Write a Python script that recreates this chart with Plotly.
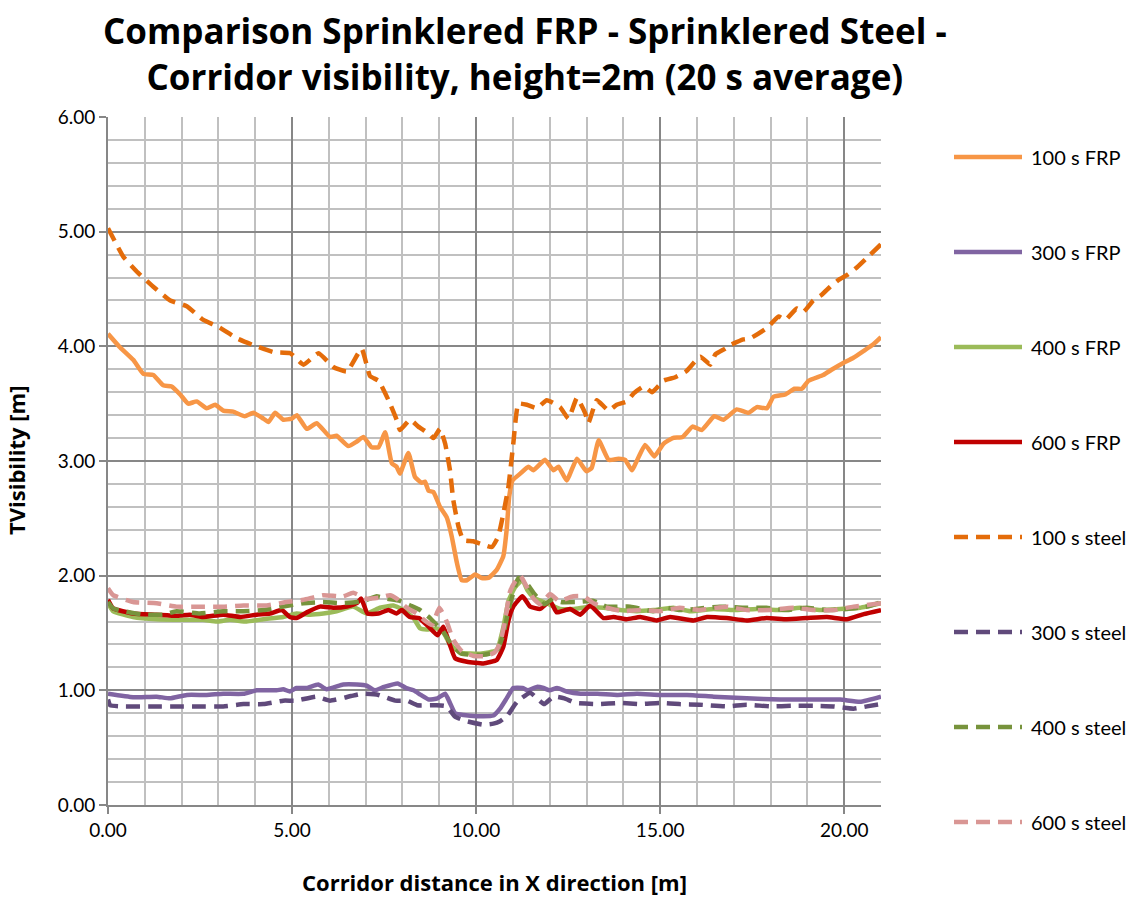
import plotly.graph_objects as go

# Corridor visibility at 2 m height (20 s average) along the corridor X distance.
# Each run has its own sampled distances [m] and visibility values [m].

x_frp_100 = [0, 0.33, 0.69, 0.96, 1.23, 1.5, 1.73, 1.96, 2.18, 2.41, 2.68, 2.91, 3.13, 3.4, 3.72,
             3.95, 4.22, 4.36, 4.54, 4.76, 4.99, 5.13, 5.4, 5.67, 6.03, 6.21, 6.53, 6.76, 6.94,
             7.16, 7.35, 7.53, 7.71, 7.84, 7.93, 8.16, 8.34, 8.52, 8.61, 8.71, 8.84, 9.02, 9.2,
             9.34, 9.48, 9.61, 9.75, 9.97, 10.15, 10.33, 10.56, 10.74, 10.83, 10.9, 10.99, 11.2,
             11.42, 11.56, 11.87, 12.1, 12.24, 12.46, 12.74, 13.0, 13.14, 13.33, 13.6, 13.87,
             14.05, 14.23, 14.59, 14.84, 15.09, 15.34, 15.61, 15.88, 16.13, 16.47, 16.72, 17.08,
             17.4, 17.63, 17.9, 18.08, 18.4, 18.65, 18.85, 19.03, 19.43, 19.68, 19.95, 20.25,
             20.53, 20.8, 21.0]
vis_frp_100 = [4.11, 3.99, 3.88, 3.76, 3.75, 3.66, 3.65, 3.58, 3.50, 3.52, 3.46, 3.49, 3.44, 3.43,
               3.39, 3.42, 3.37, 3.34, 3.42, 3.36, 3.37, 3.40, 3.28, 3.33, 3.21, 3.22, 3.13, 3.17,
               3.21, 3.12, 3.12, 3.25, 2.98, 2.95, 2.89, 3.07, 2.86, 2.81, 2.82, 2.74, 2.73, 2.60,
               2.51, 2.34, 2.11, 1.96, 1.96, 2.01, 1.98, 1.98, 2.05, 2.17, 2.40, 2.69, 2.83, 2.89,
               2.95, 2.92, 3.01, 2.92, 2.95, 2.83, 3.02, 2.91, 2.94, 3.18, 3.01, 3.02, 3.01, 2.92,
               3.14, 3.04, 3.15, 3.20, 3.21, 3.30, 3.27, 3.39, 3.36, 3.45, 3.42, 3.47, 3.46, 3.56,
               3.58, 3.63, 3.63, 3.70, 3.75, 3.80, 3.85, 3.90, 3.96, 4.02, 4.08]

x_frp_300 = [0, 0.68, 1.32, 1.68, 2.14, 2.68, 3.13, 3.68, 4.04, 4.58, 4.76, 4.94, 5.12, 5.4, 5.71,
             5.94, 6.39, 6.76, 7.03, 7.24, 7.5, 7.87, 8.1, 8.3, 8.5, 8.72, 8.95, 9.16, 9.29, 9.43,
             9.66, 10.02, 10.47, 10.65, 10.83, 11.01, 11.26, 11.4, 11.65, 11.83, 12.0, 12.2,
             12.46, 12.84, 13.3, 13.85, 14.37, 15.0, 15.73, 16.45, 17.35, 18.26, 19.17, 19.89,
             20.43, 21.0]
vis_frp_300 = [0.97, 0.94, 0.945, 0.93, 0.96, 0.96, 0.97, 0.97, 1.0, 1.0, 1.01, 0.99, 1.02, 1.02,
               1.05, 1.01, 1.05, 1.05, 1.04, 1.0, 1.03, 1.06, 1.02, 1.0, 0.96, 0.92, 0.93, 0.97,
               0.89, 0.80, 0.785, 0.775, 0.78, 0.84, 0.93, 1.02, 1.02, 1.0, 1.03, 1.02, 1.0, 1.02,
               0.99, 0.97, 0.97, 0.96, 0.97, 0.96, 0.96, 0.945, 0.93, 0.92, 0.92, 0.92, 0.90, 0.945]

x_frp_400 = [0, 0.14, 0.68, 1.32, 2.04, 2.58, 2.95, 3.31, 3.77, 4.22, 4.76, 5.12, 5.49, 5.85, 6.21,
             6.66, 7.03, 7.39, 7.75, 8.03, 8.3, 8.48, 8.66, 8.93, 9.12, 9.29, 9.57, 10.11, 10.56,
             10.74, 10.88, 11.06, 11.26, 11.4, 11.56, 11.92, 12.28, 12.64, 13.1, 13.46, 13.91,
             14.37, 14.82, 15.36, 15.82, 16.45, 17.0, 17.62, 18.26, 18.8, 19.35, 19.89, 20.43, 21.0]
vis_frp_400 = [1.76, 1.69, 1.64, 1.62, 1.615, 1.615, 1.60, 1.615, 1.60, 1.62, 1.64, 1.67, 1.66,
               1.67, 1.69, 1.73, 1.67, 1.72, 1.74, 1.70, 1.63, 1.54, 1.53, 1.54, 1.50, 1.40, 1.33,
               1.32, 1.35, 1.55, 1.78, 1.90, 1.96, 1.87, 1.81, 1.76, 1.71, 1.71, 1.73, 1.72, 1.70,
               1.69, 1.70, 1.72, 1.69, 1.71, 1.70, 1.71, 1.70, 1.72, 1.70, 1.71, 1.72, 1.76]

x_frp_600 = [0, 0.14, 0.68, 1.32, 1.86, 2.22, 2.58, 3.13, 3.59, 4.04, 4.4, 4.72, 4.94, 5.12, 5.4,
             5.76, 6.12, 6.49, 6.76, 6.88, 7.05, 7.35, 7.62, 7.84, 7.98, 8.2, 8.45, 8.71, 8.95,
             9.11, 9.29, 9.43, 9.75, 10.2, 10.56, 10.74, 10.88, 11.01, 11.26, 11.47, 11.74, 12.01,
             12.19, 12.55, 12.83, 13.1, 13.46, 13.73, 14.09, 14.46, 14.91, 15.27, 15.91, 16.27,
             16.81, 17.35, 17.89, 18.44, 18.98, 19.53, 20.07, 20.53, 21.0]
vis_frp_600 = [1.79, 1.715, 1.67, 1.66, 1.65, 1.66, 1.64, 1.66, 1.64, 1.66, 1.67, 1.70, 1.64, 1.63,
               1.68, 1.73, 1.72, 1.73, 1.76, 1.80, 1.67, 1.67, 1.70, 1.67, 1.70, 1.64, 1.63, 1.555,
               1.48, 1.555, 1.395, 1.28, 1.25, 1.235, 1.265, 1.38, 1.61, 1.73, 1.82, 1.73, 1.71,
               1.78, 1.68, 1.71, 1.66, 1.74, 1.63, 1.64, 1.62, 1.64, 1.61, 1.64, 1.61, 1.64, 1.63,
               1.61, 1.63, 1.62, 1.63, 1.64, 1.62, 1.665, 1.70]

x_steel_100 = [0, 0.42, 0.82, 1.23, 1.69, 2.14, 2.59, 3.0, 3.5, 3.95, 4.49, 4.95, 5.31, 5.72, 6.12,
               6.49, 6.89, 7.12, 7.35, 7.62, 7.84, 7.93, 8.21, 8.43, 8.71, 8.84, 9.02, 9.16, 9.29,
               9.38, 9.52, 9.65, 9.92, 10.2, 10.43, 10.6, 10.74, 10.88, 11.01, 11.15, 11.38, 11.65,
               11.92, 12.28, 12.51, 12.74, 12.96, 13.05, 13.28, 13.6, 13.82, 14.1, 14.28, 14.55,
               14.78, 15.09, 15.41, 15.7, 16.09, 16.36, 16.5, 16.77, 16.9, 17.26, 17.45, 17.9,
               18.22, 18.4, 18.71, 18.89, 19.16, 19.39, 19.62, 19.85, 20.07, 20.35, 20.71, 21.0]
vis_steel_100 = [5.03, 4.78, 4.64, 4.52, 4.40, 4.35, 4.23, 4.17, 4.07, 4.01, 3.95, 3.94, 3.84,
                 3.94, 3.82, 3.78, 3.98, 3.74, 3.70, 3.53, 3.36, 3.27, 3.36, 3.30, 3.24, 3.20, 3.28,
                 3.15, 2.92, 2.66, 2.43, 2.31, 2.30, 2.27, 2.25, 2.34, 2.54, 2.78, 3.15, 3.50, 3.49,
                 3.46, 3.53, 3.47, 3.37, 3.55, 3.42, 3.33, 3.53, 3.44, 3.49, 3.52, 3.59, 3.65, 3.60,
                 3.70, 3.73, 3.78, 3.91, 3.84, 3.93, 3.98, 4.01, 4.06, 4.07, 4.16, 4.26, 4.23, 4.33,
                 4.30, 4.40, 4.45, 4.52, 4.58, 4.62, 4.69, 4.80, 4.89]

x_steel_300 = [0, 0.06, 0.42, 1.32, 1.86, 2.4, 3.13, 3.68, 4.22, 4.76, 5.12, 5.66, 6.03, 6.6, 6.9,
               7.35, 7.8, 8.12, 8.4, 8.93, 9.2, 9.43, 9.75, 10.2, 10.47, 10.65, 10.85, 11.11, 11.47,
               11.65, 11.85, 12.1, 12.4, 12.7, 13.28, 13.91, 14.46, 15.0, 15.53, 16.07, 16.81,
               17.35, 17.98, 18.62, 19.17, 19.71, 20.25, 20.62, 21.0]
vis_steel_300 = [0.92, 0.87, 0.86, 0.86, 0.86, 0.86, 0.86, 0.88, 0.88, 0.91, 0.91, 0.945, 0.91,
                 0.95, 0.97, 0.96, 0.91, 0.91, 0.87, 0.87, 0.86, 0.77, 0.73, 0.70, 0.71, 0.73, 0.78,
                 0.90, 0.98, 0.93, 0.88, 0.945, 0.93, 0.89, 0.88, 0.89, 0.88, 0.89, 0.88, 0.875,
                 0.86, 0.875, 0.86, 0.865, 0.865, 0.86, 0.84, 0.86, 0.88]

x_steel_400 = [0, 0.14, 0.42, 0.95, 1.5, 1.86, 2.49, 3.13, 3.68, 4.22, 4.76, 5.31, 5.85, 6.3, 6.76,
               7.03, 7.3, 7.57, 7.93, 8.21, 8.48, 8.75, 8.93, 9.11, 9.29, 9.6, 10.2, 10.56, 10.74,
               10.88, 11.01, 11.15, 11.38, 11.56, 11.85, 12.1, 12.3, 12.74, 13.19, 13.55, 14.19,
               14.82, 15.18, 15.53, 15.98, 16.62, 17.26, 17.89, 18.44, 18.98, 19.53, 20.07, 20.62,
               21.0]
vis_steel_400 = [1.77, 1.715, 1.69, 1.66, 1.66, 1.69, 1.67, 1.69, 1.69, 1.70, 1.73, 1.76, 1.77,
                 1.76, 1.77, 1.79, 1.82, 1.80, 1.78, 1.74, 1.70, 1.63, 1.57, 1.51, 1.42, 1.32, 1.31,
                 1.34, 1.49, 1.70, 1.85, 1.98, 1.93, 1.85, 1.75, 1.80, 1.77, 1.77, 1.78, 1.73, 1.73,
                 1.69, 1.72, 1.70, 1.71, 1.73, 1.72, 1.72, 1.70, 1.72, 1.70, 1.71, 1.73, 1.77]

x_steel_600 = [0, 0.14, 0.68, 1.32, 1.86, 2.49, 3.13, 3.68, 4.31, 4.85, 5.31, 5.85, 6.39, 6.66,
               7.03, 7.39, 7.66, 7.84, 8.12, 8.39, 8.6, 8.8, 9.0, 9.2, 9.38, 9.62, 9.93, 10.29,
               10.5, 10.65, 10.77, 10.92, 11.06, 11.2, 11.38, 11.56, 11.74, 12.01, 12.25, 12.64,
               12.92, 13.19, 13.55, 14.0, 14.46, 15.0, 15.53, 16.07, 16.81, 17.35, 17.98, 18.62,
               19.17, 19.71, 20.25, 21.0]
vis_steel_600 = [1.89, 1.83, 1.77, 1.76, 1.73, 1.73, 1.73, 1.74, 1.74, 1.77, 1.79, 1.83, 1.82,
                 1.85, 1.80, 1.81, 1.83, 1.80, 1.72, 1.67, 1.61, 1.57, 1.72, 1.60, 1.44, 1.34, 1.30,
                 1.30, 1.33, 1.41, 1.58, 1.86, 1.95, 2.0, 1.90, 1.80, 1.75, 1.84, 1.78, 1.82, 1.82,
                 1.76, 1.72, 1.69, 1.70, 1.69, 1.72, 1.70, 1.73, 1.70, 1.70, 1.72, 1.70, 1.70, 1.73,
                 1.76]

series_names = ["100 s FRP", "300 s FRP", "400 s FRP", "600 s FRP",
                "100 s steel", "300 s steel", "400 s steel", "600 s steel"]
series_x = [x_frp_100, x_frp_300, x_frp_400, x_frp_600,
            x_steel_100, x_steel_300, x_steel_400, x_steel_600]
series_y = [vis_frp_100, vis_frp_300, vis_frp_400, vis_frp_600,
            vis_steel_100, vis_steel_300, vis_steel_400, vis_steel_600]
series_colors = ["#F79646", "#8064A2", "#9BBB59", "#C00000",
                 "#E46C0A", "#604A7B", "#77933C", "#D99694"]
series_dash = ["solid"] * 4 + ["14px,8px"] * 4

FONT = "Lato, 'Open Sans', sans-serif"
BOLD_FONT = "'Open Sans', Lato, sans-serif"
LINE_W = 4.5

fig = go.Figure()
for name, xs, ys, color, dash in zip(series_names, series_x, series_y, series_colors, series_dash):
    fig.add_trace(go.Scatter(
        x=xs, y=ys, name=name, mode="lines",
        line=dict(color=color, width=LINE_W, dash=dash, shape="spline", smoothing=0.4),
        showlegend=False,
    ))

# Legend at the right of the plot area: a line sample and a label per series
plot_left, plot_w, plot_bottom, plot_h = 108, 773, 805, 688
def px_to_paper_x(px):
    return (px - plot_left) / plot_w
def px_to_paper_y(py):
    return (plot_bottom - py) / plot_h

for i, (name, color, dash) in enumerate(zip(series_names, series_colors, series_dash)):
    y_item = 157 + 95 * i
    yp = px_to_paper_y(y_item)
    fig.add_shape(type="line", xref="paper", yref="paper",
                  x0=px_to_paper_x(954), x1=px_to_paper_x(1022), y0=yp, y1=yp,
                  line=dict(color=color, width=LINE_W, dash=dash))
    fig.add_annotation(xref="paper", yref="paper", x=px_to_paper_x(1029), y=yp,
                       xanchor="left", yanchor="middle", showarrow=False,
                       text=name, font=dict(family=FONT, size=20, color="#000000"))

# Two-line chart title
fig.add_annotation(xref="paper", yref="paper", x=px_to_paper_x(525), y=px_to_paper_y(54),
                   xanchor="center", yanchor="middle", showarrow=False,
                   text="<b>Comparison Sprinklered FRP - Sprinklered Steel -<br>"
                        "Corridor visibility, height=2m (20 s average)</b>",
                   font=dict(family=BOLD_FONT, size=35, color="#000000"))

# Axis titles placed in the margins
fig.add_annotation(xref="paper", yref="paper", x=px_to_paper_x(494), y=px_to_paper_y(882),
                   xanchor="center", yanchor="middle", showarrow=False,
                   text="<b>Corridor distance in X direction [m]</b>",
                   font=dict(family=BOLD_FONT, size=22, color="#000000"))
fig.add_annotation(xref="paper", yref="paper", x=px_to_paper_x(16), y=0.5,
                   xanchor="center", yanchor="middle", showarrow=False, textangle=-90,
                   text="<b>TVisibility [m]</b>",
                   font=dict(family=BOLD_FONT, size=22, color="#000000"))

major_grid = "#878787"
minor_grid = "#C0C0C0"

fig.update_layout(
    width=1148, height=897,
    margin=dict(l=108, r=267, t=117, b=92, autoexpand=False),
    paper_bgcolor="white", plot_bgcolor="white",
    font=dict(family=FONT, size=19, color="#000000"),
    showlegend=False,
)

fig.update_xaxes(
    range=[0, 21], dtick=5, tick0=0, tickformat=".2f",
    showgrid=True, gridcolor=major_grid, gridwidth=2,
    minor=dict(dtick=1, showgrid=True, gridcolor=minor_grid, gridwidth=2, ticks=""),
    showline=True, linecolor=major_grid, linewidth=2,
    ticks="outside", ticklen=7, tickcolor=major_grid, tickwidth=2,
    zeroline=False, automargin=False,
    tickfont=dict(family=FONT, size=19),
)
fig.update_yaxes(
    range=[0, 6], dtick=1, tick0=0, tickformat=".2f",
    showgrid=True, gridcolor=major_grid, gridwidth=2,
    minor=dict(dtick=0.2, showgrid=True, gridcolor=minor_grid, gridwidth=2, ticks=""),
    showline=True, linecolor=major_grid, linewidth=2,
    ticks="outside", ticklen=7, tickcolor=major_grid, tickwidth=2,
    zeroline=False, automargin=False,
    tickfont=dict(family=FONT, size=19),
)

fig.write_html("out.html")
